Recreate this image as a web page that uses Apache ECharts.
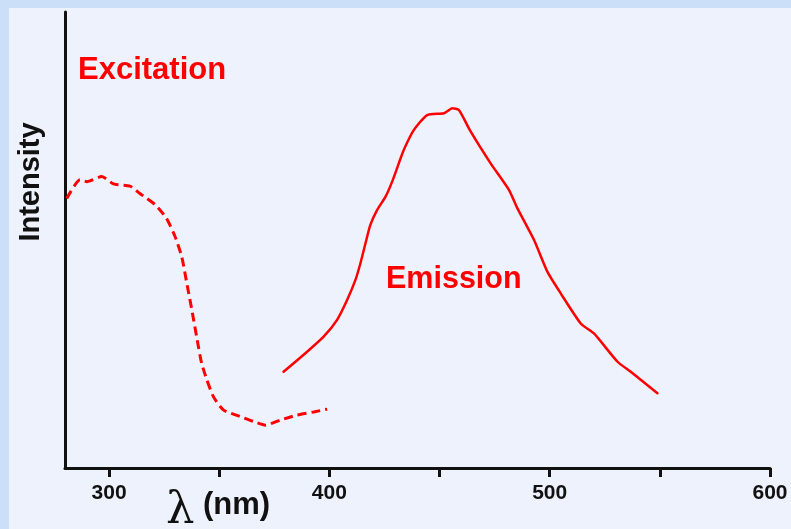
<!DOCTYPE html>
<html>
<head>
<meta charset="utf-8">
<script src="https://cdn.jsdelivr.net/npm/echarts@6/dist/echarts.min.js"></script>
<style>
html,body{margin:0;padding:0;background:#cbe0f8;}
#chart{width:791px;height:529px;}
</style>
</head>
<body>
<div id="chart"></div>
<script>
// Excitation spectrum (dashed): wavelength (nm) and intensity (a.u.)
const excitationNm = [280.8, 286.8, 289.9, 296.7, 302, 309.5, 314, 321, 326, 330, 333, 335.3, 337.6, 340, 342, 344.4, 347.4, 352, 359.5, 365.6, 371, 377.7, 385.3, 392.9, 399];
const excitationI  = [59.1, 63.2, 62.8, 63.9, 62.3, 61.8, 60.2, 57.7, 54.8, 50.7, 46.3, 40.5, 34.6, 28.1, 23.0, 19.3, 15.6, 12.7, 11.3, 10.2, 9.4, 10.5, 11.6, 12.3, 12.9];
// Emission spectrum (solid)
const emissionNm = [379.2, 389.9, 397.4, 403.5, 408.0, 411.8, 414.1, 416.4, 418.6, 421.7, 425.5, 428.5, 431.5, 433.8, 438.3, 444.4, 452, 455.8, 458.8, 464.1, 473.2, 481.5, 485.3, 492.9, 499, 505, 514.1, 520.1, 530.8, 536.8, 548.9];
const emissionI  = [21.1, 25.5, 28.8, 32.5, 36.8, 41.2, 44.9, 49.3, 53.3, 56.6, 59.5, 62.8, 66.8, 69.8, 74.1, 77.4, 77.8, 78.9, 78.5, 73.8, 66.8, 61.0, 57.0, 50.0, 43.0, 38.3, 31.7, 29.5, 23.3, 21.1, 16.4];
// Axis ticks / labels
const xTicks  = [300, 350, 400, 450, 500, 550, 600];
const xLabels = [300, 400, 500, 600];
const seriesNames = ['Excitation', 'Emission'];

const chart = echarts.init(document.getElementById('chart'), null, {renderer: 'canvas'});
const pair = (xs, ys) => xs.map((x, i) => [x, ys[i]]);
const SANS = '"Liberation Sans", Arial, sans-serif';

chart.setOption({
  backgroundColor: '#cbe0f8',
  animation: false,
  graphic: [
    {type: 'rect', z: -10, shape: {x: 9, y: 8, width: 782, height: 521}, style: {fill: '#eef2fd'}},
    {type: 'text', left: 78, top: 55, style: {text: seriesNames[0], fill: '#ff0000', font: 'bold 31px ' + SANS}},
    {type: 'text', left: 386, top: 264, style: {text: seriesNames[1], fill: '#ff0000', font: 'bold 30.5px ' + SANS}},
    {type: 'text', x: 31, y: 182, rotation: Math.PI / 2, style: {text: 'Intensity', fill: '#111', font: 'bold 29px ' + SANS, align: 'center', verticalAlign: 'middle'}},
    {type: 'text', left: 166, top: 489, style: {text: 'λ', fill: '#111', font: '45px "DejaVu Serif", "Liberation Serif", serif'}},
    {type: 'text', left: 203, top: 490, style: {text: '(nm)', fill: '#111', font: 'bold 31px ' + SANS}}
  ],
  grid: {left: 65, right: 21, top: 12, bottom: 61, containLabel: false, outerBoundsMode: 'none'},
  xAxis: {
    type: 'value', min: 280, max: 600,
    axisLine: {show: true, lineStyle: {color: '#111', width: 3}},
    axisTick: {show: true, length: 9, lineStyle: {color: '#111', width: 3}, customValues: xTicks},
    axisLabel: {show: true, customValues: xLabels, margin: 15, color: '#111', fontSize: 21, fontWeight: 'bold', fontFamily: SANS, hideOverlap: false},
    splitLine: {show: false}
  },
  yAxis: {
    type: 'value', min: 0, max: 100,
    axisLine: {show: true, lineStyle: {color: '#111', width: 3}},
    axisTick: {show: false}, axisLabel: {show: false}, splitLine: {show: false}
  },
  series: [
    {name: seriesNames[0], type: 'line', data: pair(excitationNm, excitationI), showSymbol: false, smooth: 0.2,
     lineStyle: {color: '#ff0000', width: 3, type: [9, 5], cap: 'butt'}},
    {name: seriesNames[1], type: 'line', data: pair(emissionNm, emissionI), showSymbol: false, smooth: 0.2,
     lineStyle: {color: '#ff0000', width: 2.5, cap: 'round', join: 'round'}}
  ]
});
</script>
</body>
</html>
